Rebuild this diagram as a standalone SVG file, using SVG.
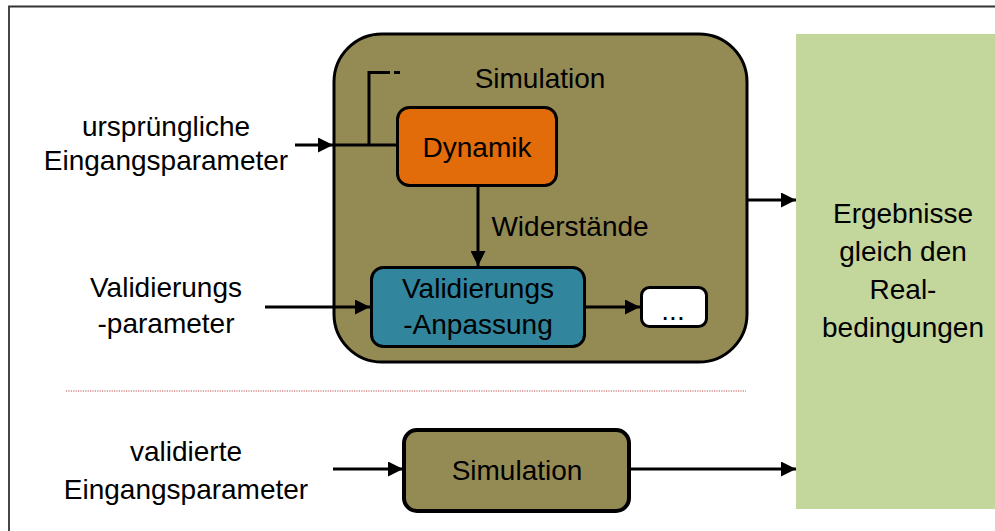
<svg xmlns="http://www.w3.org/2000/svg" width="995" height="531" viewBox="0 0 995 531">
  <style>
    text { font-family: "Liberation Sans", Arial, sans-serif; font-size: 28px; fill: #000; text-anchor: middle; }
    .box { stroke: #000; stroke-width: 3; }
    .olive { fill: #948A54; }
    .wire { stroke: #000; stroke-width: 3; fill: none; }
  </style>
  <defs>
    <marker id="arrow" viewBox="0 0 10 10" refX="10" refY="5" markerWidth="5" markerHeight="5" markerUnits="strokeWidth" orient="auto">
      <path d="M0,0 L10,5 L0,10 z" fill="#000"/>
    </marker>
  </defs>

  <rect width="995" height="531" fill="#fff"/>
  <!-- frame (top and left edges) -->
  <path d="M9,531 V6.5 H995" fill="none" stroke="#333" stroke-width="1.8"/>

  <!-- results column -->
  <g id="results">
    <rect x="796" y="34" width="200" height="475" fill="#C3D69B"/>
    <text x="903" y="223">Ergebnisse</text>
    <text x="903" y="261">gleich den</text>
    <text x="903" y="299">Real-</text>
    <text x="903" y="337">bedingungen</text>
  </g>

  <!-- simulation container -->
  <g id="simulation">
    <rect class="box olive" x="334" y="34" width="413" height="328" rx="48"/>
    <text x="540" y="88">Simulation</text>
  </g>

  <g id="dynamik">
    <rect class="box" x="397.5" y="107.5" width="159" height="78" rx="12" fill="#E36C0A"/>
    <text x="477" y="157">Dynamik</text>
  </g>

  <g id="validierung">
    <rect class="box" x="371.5" y="267.5" width="213" height="79" rx="12" fill="#31859C"/>
    <text x="478" y="298">Validierungs</text>
    <text x="478" y="334">-Anpassung</text>
  </g>

  <g id="more">
    <rect class="box" x="641.5" y="287.5" width="65" height="39" rx="8" fill="#fff"/>
    <text x="673" y="320" font-size="22">...</text>
  </g>

  <g id="simulation-validated">
    <rect x="404" y="430" width="225" height="81" rx="13" class="olive" stroke="#000" stroke-width="4"/>
    <text x="517" y="480">Simulation</text>
  </g>

  <!-- input labels -->
  <g id="label-initial">
    <text x="166" y="136">ursprüngliche</text>
    <text x="166" y="170">Eingangsparameter</text>
  </g>
  <g id="label-validation">
    <text x="166" y="297">Validierungs</text>
    <text x="166" y="333">-parameter</text>
  </g>
  <g id="label-validated">
    <text x="186" y="461">validierte</text>
    <text x="186" y="499">Eingangsparameter</text>
  </g>

  <!-- separator -->
  <line x1="66" y1="391" x2="746" y2="391" stroke="#C0504D" stroke-width="1.2" stroke-dasharray="1.2 1.2"/>

  <!-- connectors -->
  <g id="connectors">
    <line class="wire" x1="295" y1="145" x2="333" y2="145" marker-end="url(#arrow)"/>
    <line class="wire" x1="333" y1="145" x2="397" y2="145" stroke-width="2.5"/>
    <path class="wire" d="M369,145 V72.5 H390"/>
    <line class="wire" x1="394" y1="72.5" x2="400" y2="72.5"/>
    <text x="570" y="236" text-anchor="middle">Widerstände</text>
    <line class="wire" x1="478" y1="186" x2="478" y2="266" marker-end="url(#arrow)"/>
    <line class="wire" x1="265" y1="307" x2="370" y2="307" marker-end="url(#arrow)"/>
    <line class="wire" x1="585" y1="307" x2="640" y2="307" marker-end="url(#arrow)"/>
    <line class="wire" x1="748" y1="200" x2="796" y2="200" marker-end="url(#arrow)"/>
    <line class="wire" x1="333" y1="469" x2="403" y2="469" marker-end="url(#arrow)"/>
    <line class="wire" x1="631" y1="469" x2="796" y2="469" marker-end="url(#arrow)"/>
  </g>
</svg>
